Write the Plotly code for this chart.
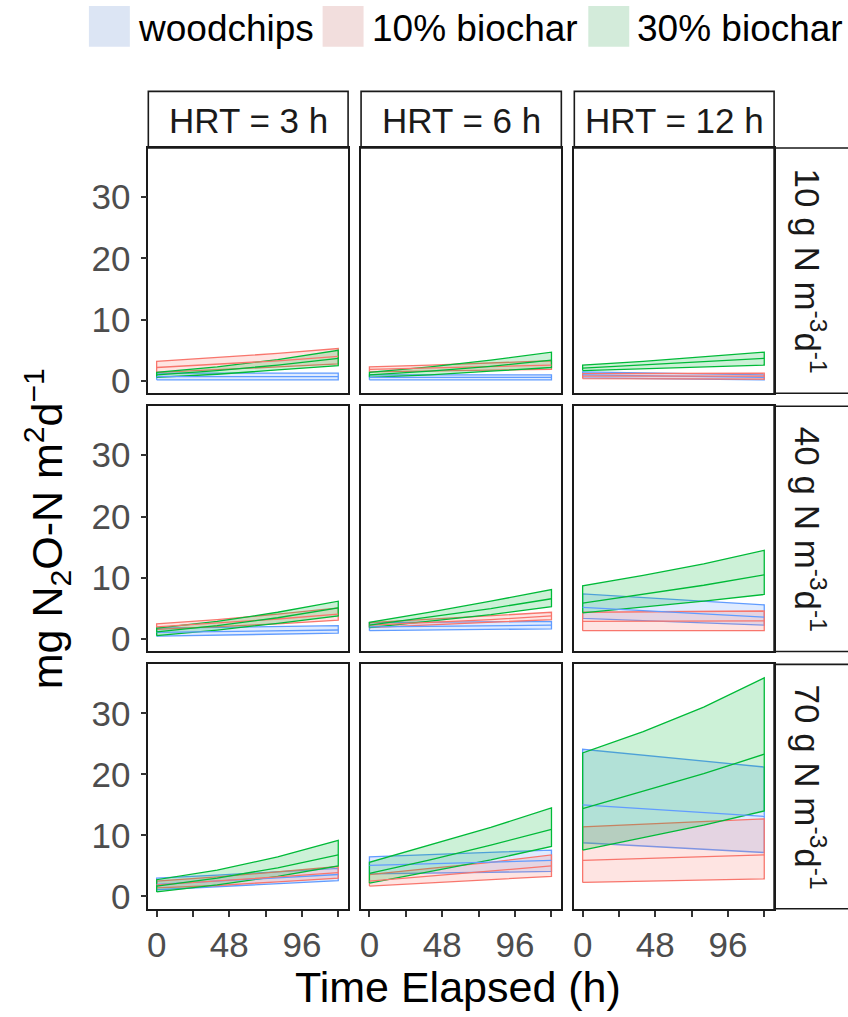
import plotly.graph_objects as go

# ---------------- data ----------------
hours = [0, 40, 80, 120]
hrt_labels = ["HRT = 3 h", "HRT = 6 h", "HRT = 12 h"]
load_labels = ["10 g N m<sup>-3</sup>d<sup>-1</sup>",
               "40 g N m<sup>-3</sup>d<sup>-1</sup>",
               "70 g N m<sup>-3</sup>d<sup>-1</sup>"]
materials = ["woodchips", "10% biochar", "30% biochar"]
x_tick_vals = [0, 48, 96]
x_minor_vals = [24, 72, 120]
y_tick_vals = [0, 10, 20, 30]

# [row (N load)][col (HRT)] -> values at `hours`
woodchips_lo = [
    [[0.2, 0.2, 0.2, 0.2], [0.2, 0.2, 0.2, 0.2], [0.5, 0.4, 0.3, 0.2]],
    [[0.5, 0.7, 0.8, 1.0], [1.4, 1.5, 1.6, 1.7], [3.4, 3.0, 2.7, 2.3]],
    [[1.1, 1.6, 2.1, 2.6], [3.7, 3.8, 4.0, 4.1], [8.8, 8.3, 7.7, 7.2]],
]
woodchips_mid = [
    [[0.7, 0.7, 0.7, 0.7], [0.6, 0.6, 0.6, 0.6], [1.0, 0.9, 0.7, 0.6]],
    [[1.1, 1.2, 1.4, 1.5], [2.0, 2.1, 2.2, 2.3], [5.2, 4.7, 4.1, 3.6]],
    [[2.0, 2.5, 3.0, 3.6], [5.1, 5.4, 5.6, 5.9], [15.0, 14.4, 13.7, 13.1]],
]
woodchips_hi = [
    [[1.3, 1.3, 1.3, 1.3], [1.0, 1.0, 1.0, 1.0], [1.5, 1.3, 1.2, 1.0]],
    [[1.8, 1.9, 2.1, 2.2], [2.7, 2.8, 2.8, 2.9], [7.4, 6.8, 6.2, 5.6]],
    [[3.0, 3.5, 4.0, 4.6], [6.5, 6.9, 7.2, 7.6], [24.1, 23.1, 22.2, 21.2]],
]
biochar10_lo = [
    [[1.4, 1.8, 2.3, 2.8], [1.5, 1.6, 1.7, 1.9], [0.4, 0.4, 0.3, 0.3]],
    [[1.6, 2.0, 2.5, 3.1], [1.9, 2.3, 2.7, 3.2], [1.4, 1.4, 1.4, 1.4]],
    [[1.4, 1.8, 2.4, 3.0], [1.7, 2.2, 2.7, 3.3], [2.3, 2.5, 2.7, 2.9]],
]
biochar10_mid = [
    [[2.2, 2.7, 3.3, 4.0], [1.9, 2.1, 2.3, 2.6], [0.8, 0.8, 0.8, 0.8]],
    [[2.0, 2.6, 3.3, 4.1], [2.3, 2.7, 3.2, 3.8], [2.9, 2.9, 3.0, 3.0]],
    [[1.9, 2.5, 3.2, 3.9], [2.5, 3.3, 4.1, 5.0], [5.9, 6.2, 6.5, 6.8]],
]
biochar10_hi = [
    [[3.2, 3.8, 4.5, 5.3], [2.3, 2.6, 2.9, 3.3], [1.2, 1.2, 1.3, 1.3]],
    [[2.5, 3.2, 4.1, 5.1], [2.7, 3.2, 3.8, 4.4], [4.4, 4.5, 4.5, 4.6]],
    [[2.5, 3.2, 4.0, 4.9], [3.6, 4.6, 5.6, 6.8], [11.4, 11.8, 12.3, 12.7]],
]
biochar30_lo = [
    [[0.6, 1.1, 1.8, 2.5], [0.6, 1.0, 1.6, 2.2], [1.7, 2.0, 2.3, 2.6]],
    [[0.6, 1.5, 2.6, 3.8], [1.9, 2.9, 4.0, 5.3], [4.3, 5.2, 6.2, 7.3]],
    [[0.75, 1.9, 3.3, 5.0], [2.2, 4.1, 6.0, 8.2], [7.6, 9.6, 11.7, 14.0]],
]
biochar30_mid = [
    [[1.0, 1.7, 2.6, 3.7], [1.0, 1.6, 2.4, 3.4], [2.1, 2.6, 3.1, 3.7]],
    [[1.2, 2.2, 3.5, 5.1], [2.3, 3.6, 5.0, 6.6], [5.9, 7.3, 8.8, 10.5]],
    [[1.7, 3.0, 4.7, 6.8], [3.8, 6.0, 8.4, 11.0], [14.4, 17.2, 20.1, 23.3]],
]
biochar30_hi = [
    [[1.4, 2.3, 3.5, 5.0], [1.4, 2.3, 3.4, 4.7], [2.6, 3.2, 3.9, 4.7]],
    [[1.8, 2.9, 4.4, 6.2], [2.75, 4.4, 6.2, 8.1], [8.7, 10.4, 12.3, 14.5]],
    [[2.75, 4.3, 6.5, 9.2], [5.6, 8.4, 11.3, 14.5], [23.5, 27.0, 31.0, 35.8]],
]

series_lo = [woodchips_lo, biochar10_lo, biochar30_lo]
series_mid = [woodchips_mid, biochar10_mid, biochar30_mid]
series_hi = [woodchips_hi, biochar10_hi, biochar30_hi]
line_colors = ["#619CFF", "#F8766D", "#00BA38"]
fill_colors = ["rgba(97,156,255,0.2)", "rgba(248,118,109,0.2)", "rgba(0,186,56,0.2)"]
key_colors = ["#DCE5F4", "#F2DEDD", "#D3EBDA"]

# ---------------- layout geometry (pixels) ----------------
W, H = 848, 1017
FONT = "Liberation Sans"


def px(x):
    return x / W


def py(y):
    return 1 - y / H


col_x = [(147.5, 347.5), (360.5, 561.0), (574.0, 774.0)]
row_y = [(149.0, 396.0), (409.0, 656.0), (669.0, 915.0)]

fig = go.Figure()
layout = dict(
    width=W, height=H,
    margin=dict(l=0, r=0, t=0, b=0),
    paper_bgcolor="white", plot_bgcolor="white",
    showlegend=False,
    font=dict(family=FONT, color="black"),
)

for r in range(3):
    for c in range(3):
        k = r * 3 + c + 1
        xa = "x" if k == 1 else f"x{k}"
        ya = "y" if k == 1 else f"y{k}"
        # ribbons
        for s in range(3):
            lo = series_lo[s][r][c]
            hi = series_hi[s][r][c]
            fig.add_trace(go.Scatter(
                x=hours + hours[::-1] + [hours[0]],
                y=lo + hi[::-1] + [lo[0]],
                mode="lines", fill="toself",
                fillcolor=fill_colors[s],
                line=dict(color=line_colors[s], width=1.3),
                name=materials[s], xaxis=xa, yaxis=ya, hoverinfo="skip",
            ))
        # mean lines
        for s in range(3):
            fig.add_trace(go.Scatter(
                x=hours, y=series_mid[s][r][c], mode="lines",
                line=dict(color=line_colors[s], width=1.3),
                name=materials[s], xaxis=xa, yaxis=ya,
            ))
        x0, x1 = col_x[c]
        y0, y1 = row_y[r]
        xname = "xaxis" if k == 1 else f"xaxis{k}"
        yname = "yaxis" if k == 1 else f"yaxis{k}"
        bottom = (r == 2)
        left = (c == 0)
        xa_dict = dict(
            domain=[px(x0), px(x1)], anchor=ya, range=[-5.5, 126.5],
            showgrid=False, zeroline=False, showline=True, mirror=True,
            linecolor="#1a1a1a", linewidth=1.6,
            tickvals=x_tick_vals,
            ticks="outside" if bottom else "", ticklen=6, tickwidth=1.5,
            tickcolor="#333333", showticklabels=bottom,
            tickfont=dict(family=FONT, size=35, color="#4D4D4D"),
            ticklabelstandoff=-2,
        )
        if bottom:
            xa_dict["minor"] = dict(tickvals=x_minor_vals, ticks="outside",
                                    ticklen=6, tickwidth=1.5, tickcolor="#333333",
                                    showgrid=False)
        layout[xname] = xa_dict
        layout[yname] = dict(
            domain=[py(y1), py(y0)], anchor=xa, range=[-2, 38],
            showgrid=False, zeroline=False, showline=True, mirror=True,
            linecolor="#1a1a1a", linewidth=1.6,
            tickvals=y_tick_vals,
            ticks="outside" if left else "", ticklen=6, tickwidth=1.5,
            tickcolor="#333333", showticklabels=left,
            tickfont=dict(family=FONT, size=35, color="#4D4D4D"),
            ticklabelstandoff=3,
        )

shapes = []
annotations = []

# top strips
for c in range(3):
    x0, x1 = col_x[c]
    shapes.append(dict(type="rect", xref="paper", yref="paper",
                       x0=px(x0), x1=px(x1), y0=py(149), y1=py(92),
                       line=dict(color="#1a1a1a", width=1.6), fillcolor="white", layer="below"))
    annotations.append(dict(text=hrt_labels[c], xref="paper", yref="paper",
                            x=px((x0 + x1) / 2), y=py(121), showarrow=False,
                            xanchor="center", yanchor="middle",
                            font=dict(family=FONT, size=35, color="#1a1a1a")))
# right strips
for r in range(3):
    y0, y1 = row_y[r]
    shapes.append(dict(type="rect", xref="paper", yref="paper",
                       x0=px(774), x1=px(900), y0=py(y1), y1=py(y0),
                       line=dict(color="#1a1a1a", width=1.6), fillcolor="white", layer="below"))
    annotations.append(dict(text=load_labels[r], xref="paper", yref="paper",
                            x=px(810), y=py((y0 + y1) / 2), showarrow=False,
                            textangle=90, xanchor="center", yanchor="middle",
                            font=dict(family=FONT, size=35, color="#1a1a1a")))

# legend (manual keys)
key_x = [88, 322, 588]
for s in range(3):
    shapes.append(dict(type="rect", xref="paper", yref="paper",
                       x0=px(key_x[s]), x1=px(key_x[s] + 41), y0=py(47), y1=py(6),
                       line=dict(width=0), fillcolor=key_colors[s]))
    annotations.append(dict(text=materials[s], xref="paper", yref="paper",
                            x=px(key_x[s] + 47), y=py(29), showarrow=False,
                            xanchor="left", yanchor="middle",
                            font=dict(family=FONT, size=37, color="black")))

# axis titles
annotations.append(dict(text="Time Elapsed (h)", xref="paper", yref="paper",
                        x=px(458), y=py(994), showarrow=False,
                        xanchor="center", yanchor="middle",
                        font=dict(family=FONT, size=43, color="black")))
annotations.append(dict(text="mg N<sub>2</sub>O-N m<sup>2</sup>d<sup>\u22121</sup>",
                        xref="paper", yref="paper",
                        x=px(46), y=py(532), showarrow=False, textangle=-90,
                        xanchor="center", yanchor="middle",
                        font=dict(family=FONT, size=43, color="black")))

layout["shapes"] = shapes
layout["annotations"] = annotations
fig.update_layout(**layout)
fig.write_html("out.html")
